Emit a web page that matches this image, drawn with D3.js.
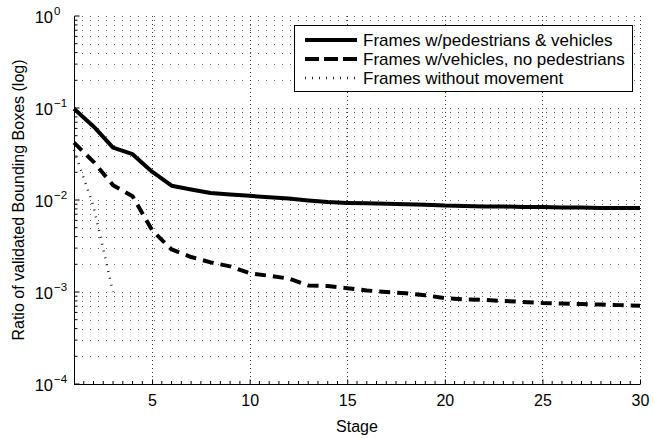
<!DOCTYPE html>
<html>
<head>
<meta charset="utf-8">
<script src="https://cdn.jsdelivr.net/npm/d3@7"></script>
<style>
  html, body { margin: 0; padding: 0; background: #fff; }
  svg { display: block; font-family: "Liberation Sans", Arial, Helvetica, sans-serif; }
</style>
</head>
<body>
<svg id="chart" width="653" height="438"></svg>
<script>
// ---- data ----
const stages = [1,2,3,4,5,6,7,8,9,10,11,12,13,14,15,16,17,18,19,20,21,22,23,24,25,26,27,28,29,30];
const pedVeh = [0.098,0.063,0.037,0.0315,0.0203,0.0143,0.0130,0.0119,0.0115,0.0111,0.0107,0.0104,0.0099,0.0095,0.0093,0.0092,0.0091,0.0090,0.0089,0.0087,0.0086,0.0085,0.0085,0.0084,0.0084,0.0083,0.0083,0.0082,0.0082,0.0082];
const vehNoPed = [0.042,0.026,0.0145,0.011,0.0047,0.0029,0.0024,0.0021,0.0019,0.0016,0.0015,0.0014,0.00118,0.00116,0.0011,0.00104,0.0010,0.00097,0.00092,0.00086,0.00083,0.00082,0.00080,0.00078,0.00076,0.00075,0.00074,0.00073,0.00072,0.00071];
const noMove = [0.035,0.0085,0.0010,0,0,0,0,0,0,0,0,0,0,0,0,0,0,0,0,0,0,0,0,0,0,0,0,0,0,0];
const seriesNames = ["Frames w/pedestrians & vehicles","Frames w/vehicles, no pedestrians","Frames without movement"];
const xTicks = [5,10,15,20,25,30];
const yTickExps = [-4,-3,-2,-1,0];
const xLabel = "Stage";
const yLabel = "Ratio of validated Bounding Boxes (log)";

// ---- layout ----
const svg = d3.select("#chart");
const L = 74, R = 640, T = 16, B = 384;
const x = d3.scaleLinear().domain([1,30]).range([L,R]);
const y = d3.scaleLog().domain([1e-4,1]).range([B,T]);

// grid: horizontal (major + minor decades)
const gridY = [];
yTickExps.forEach((e,i) => {
  gridY.push(Math.pow(10,e));
  if (i < yTickExps.length-1) for (let k=2;k<=9;k++) gridY.push(k*Math.pow(10,e));
});
const gGrid = svg.append("g");
gGrid.selectAll("line.h").data(gridY.filter(v => v > 1e-4)).enter().append("line")
  .attr("x1", L).attr("x2", R)
  .attr("y1", d => Math.round(y(d))+0.5).attr("y2", d => Math.round(y(d))+0.5)
  .attr("stroke", "#666").attr("stroke-width", 1).attr("stroke-dasharray", "1,7");
gGrid.selectAll("line.v").data(xTicks).enter().append("line")
  .attr("x1", d => Math.round(x(d))+0.5).attr("x2", d => Math.round(x(d))+0.5)
  .attr("y1", T).attr("y2", B)
  .attr("stroke", "#333").attr("stroke-width", 1).attr("stroke-dasharray", "1,3");

// axes (left + bottom only, inward ticks)
const xAxis = d3.axisBottom(x).tickValues(xTicks).tickSize(-5).tickFormat(d3.format("d")).tickPadding(10);
const gx = svg.append("g").attr("transform", `translate(0,${B+0.5})`).call(xAxis);
gx.select(".domain").attr("stroke", "#000").attr("d", `M${L},0H${R}`);
gx.selectAll("text").attr("font-size", 16).attr("fill", "#000").attr("font-family", "Liberation Sans, Arial, sans-serif");
gx.selectAll(".tick line").attr("stroke", "#000");
// x minor ticks
const xMinor = d3.range(1, 30.001, 0.5).filter(v => xTicks.indexOf(v) < 0 && v > 1);
svg.append("g").selectAll("line").data(xMinor).enter().append("line")
  .attr("x1", d => x(d)).attr("x2", d => x(d)).attr("y1", B).attr("y2", B-3)
  .attr("stroke", "#000").attr("stroke-width", 1);

const gy = svg.append("g").attr("transform", `translate(${L+0.5},0)`);
gy.append("line").attr("x1",0).attr("x2",0).attr("y1",T).attr("y2",B+0.5).attr("stroke","#000");
gy.selectAll("line.maj").data(yTickExps).enter().append("line")
  .attr("x1",0).attr("x2",5).attr("y1", d => y(Math.pow(10,d))).attr("y2", d => y(Math.pow(10,d)))
  .attr("stroke","#000");
gy.selectAll("line.min").data(gridY.filter(v => Math.abs(Math.log10(v) - Math.round(Math.log10(v))) > 1e-9)).enter().append("line")
  .attr("x1",0).attr("x2",3).attr("y1", d => y(d)).attr("y2", d => y(d))
  .attr("stroke","#000");

// y tick labels 10^e
const yl = svg.append("g");
yTickExps.forEach(e => {
  const yy = y(Math.pow(10,e));
  yl.append("text").attr("x", 53).attr("y", yy+7).attr("text-anchor","end")
    .attr("font-size",16.5).attr("fill","#000").text("10");
  yl.append("text").attr("x", 54).attr("y", yy-1).attr("text-anchor","start")
    .attr("font-size",11.5).attr("fill","#000").text(e < 0 ? "\u2212" + Math.abs(e) : String(e));
});

// axis labels
svg.append("text").attr("x", (L+R)/2).attr("y", 432).attr("text-anchor","middle")
  .attr("font-size",16).attr("fill","#000").text(xLabel);
svg.append("text").attr("transform", `translate(24,${(T+B)/2}) rotate(-90)`)
  .attr("text-anchor","middle").attr("font-size",16).attr("fill","#000").text(yLabel);

// series lines
const line = d3.line().defined(d => d[1] > 0).x(d => x(d[0])).y(d => y(d[1]));
const styles = [
  {w: 4, dash: null},
  {w: 4, dash: "11,7"},
  {w: 2.5, dash: "1,6"}
];
[pedVeh, vehNoPed, noMove].forEach((vals, i) => {
  svg.append("path").datum(stages.map((s,j) => [s, vals[j]]))
    .attr("d", line).attr("fill","none").attr("stroke", i===2 ? "#222" : "#000")
    .attr("stroke-width", styles[i].w)
    .attr("stroke-dasharray", styles[i].dash)
    .attr("stroke-linejoin","round");
});

// legend
const lg = svg.append("g");
lg.append("rect").attr("x", 294.5).attr("y", 25.5).attr("width", 338).attr("height", 66)
  .attr("fill","#fff").attr("stroke","#000").attr("stroke-width",1);
seriesNames.forEach((name, i) => {
  const yy = 40 + i*19;
  lg.append("line").attr("x1", 305).attr("x2", 357).attr("y1", yy).attr("y2", yy)
    .attr("stroke", i===2 ? "#222" : "#000").attr("stroke-width", styles[i].w)
    .attr("stroke-dasharray", i===1 ? "14,5" : styles[i].dash);
  lg.append("text").attr("x", 363).attr("y", yy+6).attr("font-size",17).attr("fill","#000").text(name);
});
</script>
</body>
</html>
